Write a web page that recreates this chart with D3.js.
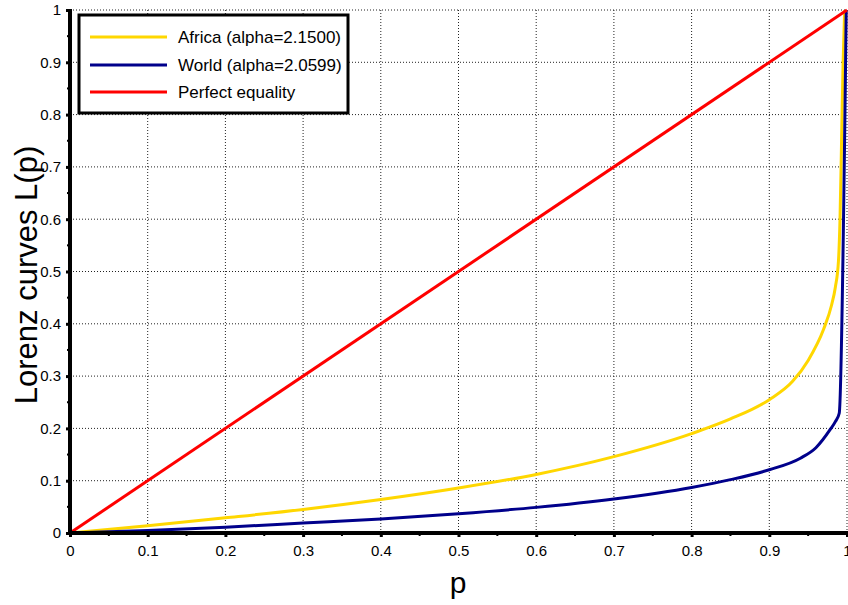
<!DOCTYPE html>
<html><head><meta charset="utf-8">
<script src="https://cdn.jsdelivr.net/npm/d3@7"></script>
<style>body{margin:0;background:#fff}svg{display:block}text{font-family:"Liberation Sans",Arial,sans-serif}</style>
</head><body><svg id="c" width="848" height="605"></svg>
<script>
// data
const africaP = [0, .1, .2, .3, .4, .5, .6, .7, .8, .85, .9, .93, .95, .97, .98, .985, .989, .991, .993, .995, .997];
const africaL = [0, .014, .029, .045, .064, .086, .112, .146, .19, .218, .255, .29, .33, .39, .435, .47, .52, .6, .75, .9, 1];
const worldP = [0, .1, .2, .3, .4, .5, .6, .7, .8, .85, .9, .94, .96, .978, .985, .99, .999];
const worldL = [0, .005, .011, .019, .027, .037, .049, .065, .087, .102, .121, .143, .163, .197, .213, .229, 1];
const equalP = [0, 1];
const equalL = [0, 1];
const tickValues = [0, .1, .2, .3, .4, .5, .6, .7, .8, .9, 1];
const tickLabels = ["0", "0.1", "0.2", "0.3", "0.4", "0.5", "0.6", "0.7", "0.8", "0.9", "1"];
const seriesNames = ["Africa (alpha=2.1500)", "World (alpha=2.0599)", "Perfect equality"];
const seriesColors = ["#FFD700", "#00008B", "#FF0000"];

const svg = d3.select("#c");
const m = {l: 70, r: 847, t: 10, b: 533};
const x = d3.scaleLinear().domain([0, 1]).range([m.l, m.r]);
const y = d3.scaleLinear().domain([0, 1]).range([m.b, m.t]);

// grid
const g = svg.append("g");
tickValues.forEach(v => {
  if (v > 0) {
    g.append("line").attr("x1", x(v)).attr("x2", x(v)).attr("y1", y(0)).attr("y2", y(1))
      .attr("stroke", "#222").attr("stroke-width", 1).attr("stroke-dasharray", "1,2");
    g.append("line").attr("x1", x(0)).attr("x2", x(1)).attr("y1", y(v)).attr("y2", y(v))
      .attr("stroke", "#222").attr("stroke-width", 1).attr("stroke-dasharray", "1,2");
  }
});

// series
const series = [
  {p: africaP, L: africaL},
  {p: worldP, L: worldL},
  {p: equalP, L: equalL}
];
const line = d3.line().x(d => x(d[0])).y(d => y(d[1])).curve(d3.curveMonotoneX);
series.forEach((s, i) => {
  svg.append("path").datum(s.p.map((p, j) => [p, s.L[j]]))
    .attr("d", line).attr("fill", "none").attr("stroke", seriesColors[i])
    .attr("stroke-width", 3).attr("stroke-linejoin", "round");
});

// axes
const fmt = (d) => tickLabels[tickValues.indexOf(d)];
const minor = d3.range(0.05, 1, 0.1);
const xAxis = svg.append("g").attr("transform", `translate(0,${y(0)})`)
  .call(d3.axisBottom(x).tickValues(tickValues).tickFormat(fmt).tickSize(4).tickPadding(8));
const yAxis = svg.append("g").attr("transform", `translate(${x(0)},0)`)
  .call(d3.axisLeft(y).tickValues(tickValues).tickFormat(fmt).tickSize(4).tickPadding(5));
[xAxis, yAxis].forEach(a => {
  a.select(".domain").remove();
  a.selectAll(".tick line").attr("stroke", "#000").attr("stroke-width", 3);
  a.selectAll(".tick text").attr("font-size", 15).attr("fill", "#000");
});
minor.forEach(v => {
  svg.append("line").attr("x1", x(v)).attr("x2", x(v)).attr("y1", y(0)).attr("y2", y(0) + 3)
    .attr("stroke", "#000").attr("stroke-width", 2);
  svg.append("line").attr("x1", x(0)).attr("x2", x(0) - 3).attr("y1", y(v)).attr("y2", y(v))
    .attr("stroke", "#000").attr("stroke-width", 2);
});
svg.append("line").attr("x1", x(0) - 1).attr("x2", x(1) + 1).attr("y1", y(0)).attr("y2", y(0))
  .attr("stroke", "#000").attr("stroke-width", 4);
svg.append("line").attr("x1", x(0)).attr("x2", x(0)).attr("y1", y(0) + 1).attr("y2", y(1) - 1)
  .attr("stroke", "#000").attr("stroke-width", 4);

// axis titles
svg.append("text").attr("x", 458).attr("y", 593).attr("text-anchor", "middle")
  .attr("font-size", 30).text("p");
svg.append("text").attr("transform", "translate(37,275) rotate(-90)").attr("text-anchor", "middle")
  .attr("font-size", 31).text("Lorenz curves L(p)");

// legend
const lg = svg.append("g");
lg.append("rect").attr("x", 79).attr("y", 15).attr("width", 269).attr("height", 98)
  .attr("fill", "#fff").attr("stroke", "#000").attr("stroke-width", 3);
const ly = [37, 65, 92];
seriesNames.forEach((n, i) => {
  lg.append("line").attr("x1", 90).attr("x2", 167).attr("y1", ly[i]).attr("y2", ly[i])
    .attr("stroke", seriesColors[i]).attr("stroke-width", 3);
  lg.append("text").attr("x", 178).attr("y", ly[i] + 6).attr("font-size", 17).text(n);
});
</script></body></html>
